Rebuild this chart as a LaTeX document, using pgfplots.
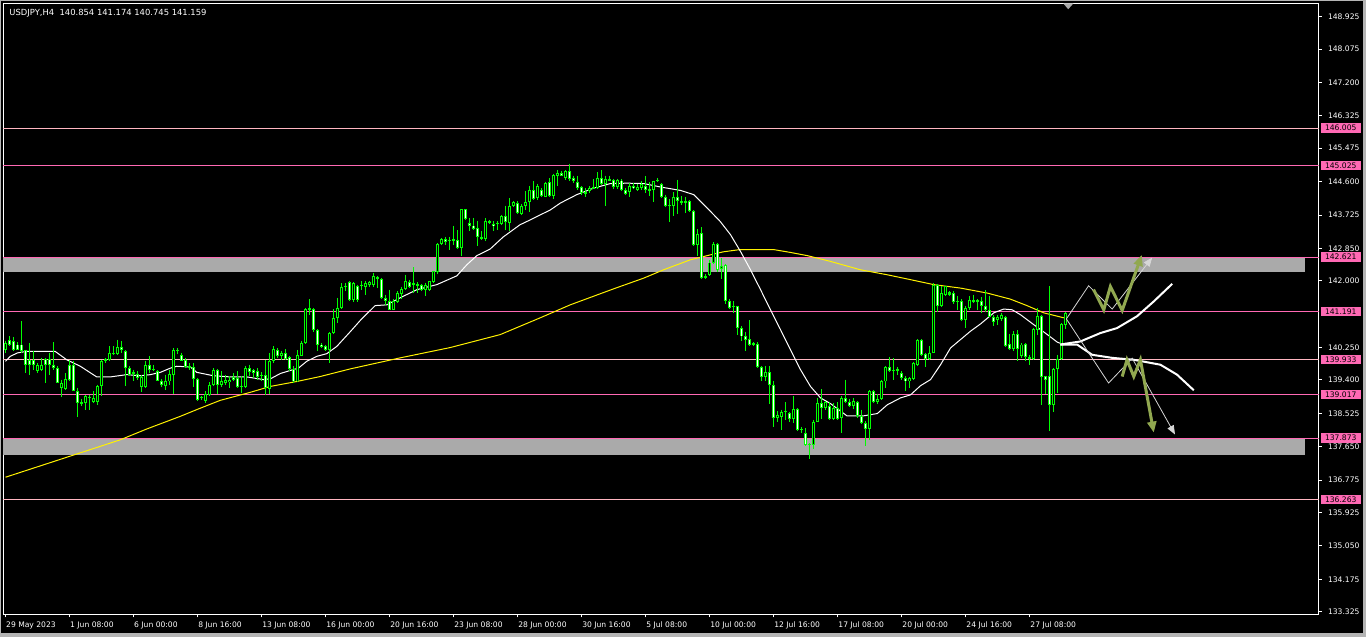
\documentclass[border=0pt]{standalone}
\usepackage{pgfplots}
\pgfplotsset{compat=1.18}
\usepackage{pgfplotstable}
\usepackage{fontspec}
\setmainfont{DejaVu Sans}
\usetikzlibrary{arrows.meta}
\definecolor{lime}{RGB}{0,255,0}
\definecolor{hpink}{RGB}{255,105,180}
\definecolor{lpink}{RGB}{255,182,193}
\definecolor{zgray}{RGB}{170,170,170}
\definecolor{olivearrow}{RGB}{145,168,80}
\definecolor{thinwhite}{RGB}{215,215,215}
\definecolor{bordergray}{RGB}{180,180,180}

\pgfplotstableread{
i o h l c
0 140.19 140.43 140.12 140.37
1 140.44 140.54 140.28 140.33
2 140.41 140.53 140.15 140.19
3 140.33 140.39 140.18 140.19
4 140.33 140.94 140.11 140.15
5 140.19 140.19 139.58 139.80
6 139.93 140.37 139.54 139.80
7 139.93 140.15 139.67 139.78
8 139.64 139.84 139.58 139.78
9 139.65 139.98 139.63 139.80
10 139.95 139.98 139.32 139.78
11 139.95 140.11 139.54 139.78
12 139.80 140.39 139.67 139.71
13 139.71 139.76 139.32 139.32
14 139.19 139.41 138.95 139.32
15 139.16 139.58 139.15 139.43
16 139.80 139.93 139.36 139.41
17 139.80 139.89 139.10 139.12
18 139.10 139.19 138.43 138.80
19 138.78 138.90 138.71 138.81
20 138.80 139.01 138.62 138.97
21 138.95 139.01 138.62 138.92
22 138.81 139.10 138.80 138.93
23 138.81 139.28 138.75 139.23
24 139.25 139.93 138.97 139.91
25 139.89 139.98 139.84 139.95
26 139.93 140.28 139.89 140.11
27 140.08 140.28 140.06 140.11
28 140.09 140.46 140.06 140.26
29 140.26 140.41 140.11 140.18
30 140.15 140.19 139.23 139.71
31 139.71 139.76 139.50 139.54
32 139.60 139.67 139.36 139.56
33 139.56 139.63 139.41 139.44
34 139.22 139.54 139.08 139.47
35 139.22 139.90 139.19 139.78
36 139.80 140.02 139.58 139.65
37 139.69 139.80 139.63 139.65
38 139.64 139.65 139.36 139.38
39 139.38 139.43 139.22 139.28
40 139.25 139.54 139.15 139.38
41 139.36 139.67 139.28 139.56
42 139.54 140.24 139.03 140.19
43 140.19 140.24 140.09 140.15
44 140.05 140.12 139.89 139.91
45 139.93 139.98 139.71 139.74
46 139.76 139.84 139.67 139.71
47 139.74 139.84 139.22 139.43
48 139.43 139.45 138.84 138.88
49 138.92 138.99 138.88 138.95
50 138.84 139.10 138.80 139.04
51 139.01 139.34 138.97 139.28
52 139.28 139.71 139.23 139.67
53 139.65 139.69 139.04 139.28
54 139.28 139.63 139.22 139.36
55 139.32 139.54 139.28 139.39
56 139.34 139.50 139.19 139.41
57 139.47 139.58 139.36 139.39
58 139.45 139.63 139.19 139.22
59 139.21 139.50 139.06 139.23
60 139.22 139.77 139.19 139.71
61 139.71 139.80 139.50 139.60
62 139.65 139.69 139.45 139.58
63 139.64 139.71 139.41 139.47
64 139.53 139.60 139.36 139.50
65 139.53 139.93 139.01 139.19
66 139.16 140.11 139.04 139.91
67 139.89 140.28 139.84 140.21
68 140.19 140.24 139.98 140.02
69 140.02 140.15 139.93 140.11
70 140.11 140.21 139.93 139.95
71 139.99 140.02 139.63 139.69
72 139.69 139.76 139.32 139.36
73 139.36 140.19 139.34 140.06
74 140.04 140.41 140.02 140.37
75 140.37 141.29 140.35 141.26
76 141.28 141.51 141.11 141.24
77 141.26 141.29 140.67 140.72
78 140.72 140.74 140.15 140.33
79 140.33 140.37 140.24 140.26
80 140.28 140.33 140.15 140.18
81 140.18 140.65 139.84 140.63
82 140.63 141.26 140.61 141.02
83 141.02 141.55 140.89 141.29
84 141.29 141.94 141.26 141.84
85 141.84 141.94 141.72 141.87
86 141.96 141.99 141.46 141.49
87 141.49 141.96 141.44 141.94
88 141.87 141.90 141.44 141.49
89 141.87 141.99 141.77 141.90
90 141.85 141.99 141.64 141.93
91 141.90 142.00 141.85 141.98
92 141.90 142.20 141.85 142.12
93 142.10 142.13 141.81 142.05
94 142.05 142.07 141.51 141.55
95 141.55 141.64 141.37 141.46
96 141.46 141.77 141.24 141.24
97 141.24 141.51 141.23 141.46
98 141.44 141.72 141.42 141.68
99 141.66 141.85 141.52 141.78
100 141.78 142.16 141.77 142.00
101 141.96 142.03 141.81 141.85
102 141.90 142.36 141.68 141.94
103 141.92 141.96 141.68 141.87
104 141.90 141.92 141.72 141.77
105 141.77 141.94 141.61 141.90
106 141.77 142.00 141.74 141.99
107 141.96 142.27 141.94 142.25
108 142.22 142.99 142.19 142.97
109 142.97 143.12 142.95 143.10
110 143.10 143.15 142.95 143.01
111 143.06 143.15 142.82 143.08
112 143.10 143.45 142.95 143.05
113 143.06 143.32 142.83 142.85
114 142.85 143.88 142.66 143.87
115 143.87 143.88 143.60 143.62
116 143.52 143.65 143.30 143.43
117 143.45 143.65 143.34 143.36
118 143.38 143.58 142.90 143.15
119 143.15 143.30 143.08 143.10
120 143.10 143.65 143.04 143.58
121 143.58 143.60 143.50 143.52
122 143.50 143.56 143.30 143.43
123 143.48 143.56 143.34 143.52
124 143.50 143.73 143.47 143.69
125 143.71 143.97 143.34 143.53
126 143.52 144.17 143.30 143.95
127 143.95 144.08 143.94 144.06
128 144.04 144.08 143.76 143.78
129 143.76 144.02 143.73 143.97
130 143.95 144.35 143.86 144.06
131 144.06 144.49 143.80 144.39
132 144.39 144.61 144.13 144.15
133 144.17 144.55 144.13 144.48
134 144.39 144.43 144.21 144.23
135 144.21 144.60 144.20 144.56
136 144.58 144.69 144.21 144.23
137 144.23 144.81 144.14 144.78
138 144.76 144.91 144.49 144.83
139 144.83 144.87 144.74 144.76
140 144.70 144.91 144.65 144.87
141 144.87 145.07 144.63 144.67
142 144.70 144.76 144.56 144.61
143 144.58 144.76 144.39 144.43
144 144.46 144.48 144.26 144.30
145 144.28 144.43 144.21 144.32
146 144.35 144.48 144.30 144.43
147 144.41 144.67 144.41 144.45
148 144.43 144.84 144.41 144.70
149 144.70 144.90 144.52 144.55
150 144.55 144.76 143.95 144.67
151 144.67 144.76 144.61 144.63
152 144.65 144.67 144.41 144.46
153 144.46 144.67 144.41 144.65
154 144.63 144.67 144.35 144.37
155 144.39 144.43 144.26 144.28
156 144.32 144.56 144.20 144.49
157 144.49 144.56 144.41 144.43
158 144.39 144.55 144.35 144.46
159 144.43 144.61 144.39 144.54
160 144.49 144.74 144.30 144.37
161 144.35 144.58 144.23 144.41
162 144.39 144.63 144.06 144.61
163 144.61 144.70 144.58 144.65
164 144.55 144.56 144.17 144.21
165 144.21 144.26 143.94 143.95
166 143.97 144.14 143.53 143.99
167 143.97 144.32 143.69 144.20
168 144.20 144.65 143.76 144.08
169 144.08 144.22 144.00 144.04
170 144.04 144.21 143.78 144.08
171 144.08 144.11 143.80 143.82
172 143.84 143.86 142.92 142.95
173 142.95 143.36 142.66 143.24
174 143.25 143.41 142.05 142.07
175 142.08 142.19 142.06 142.12
176 142.16 142.55 142.12 142.48
177 142.48 143.01 142.45 142.97
178 142.97 142.99 142.22 142.29
179 142.31 142.60 142.05 142.40
180 142.42 142.45 141.40 141.46
181 141.48 141.51 141.26 141.29
182 141.31 141.46 141.16 141.35
183 141.33 141.35 140.59 140.76
184 140.76 140.81 140.41 140.54
185 140.56 140.67 140.15 140.46
186 140.47 140.96 140.28 140.33
187 140.33 140.39 140.28 140.36
188 140.35 140.39 139.71 139.74
189 139.74 139.76 139.36 139.49
190 139.49 139.77 139.36 139.60
191 139.60 139.76 138.78 139.28
192 139.28 139.38 138.17 138.40
193 138.40 138.58 138.31 138.49
194 138.43 138.62 138.08 138.56
195 138.58 138.81 138.36 138.55
196 138.53 138.55 138.29 138.38
197 138.38 138.97 138.27 138.64
198 138.64 138.66 138.05 138.08
199 138.11 138.17 138.01 138.08
200 138.01 138.14 137.68 137.70
201 137.69 137.75 137.33 137.72
202 137.70 138.36 137.59 138.31
203 138.31 138.93 138.29 138.80
204 138.80 139.16 138.38 138.67
205 138.67 138.84 138.62 138.81
206 138.73 138.81 138.36 138.38
207 138.38 138.80 138.34 138.67
208 138.67 138.81 138.34 138.38
209 138.40 138.97 138.01 138.93
210 138.93 139.41 138.80 138.81
211 138.81 138.90 138.69 138.71
212 138.71 138.93 138.64 138.84
213 138.81 138.84 138.40 138.45
214 138.46 138.62 138.25 138.27
215 138.27 138.32 137.66 138.11
216 138.11 139.13 137.83 139.10
217 139.10 139.15 138.80 138.81
218 138.81 139.02 138.78 138.90
219 138.90 139.41 138.88 139.36
220 139.36 139.76 139.19 139.74
221 139.74 140.00 139.60 139.63
222 139.63 139.98 139.41 139.67
223 139.69 139.74 139.54 139.63
224 139.58 139.63 139.41 139.45
225 139.45 139.50 139.10 139.36
226 139.36 139.48 139.19 139.45
227 139.43 139.86 139.41 139.85
228 139.80 140.47 139.77 140.46
229 140.46 140.47 140.04 140.06
230 140.09 140.12 139.74 139.95
231 139.95 140.28 139.93 140.12
232 140.12 141.94 140.11 141.90
233 141.90 141.92 141.17 141.35
234 141.35 141.86 141.31 141.68
235 141.64 141.87 141.61 141.86
236 141.70 141.72 141.59 141.64
237 141.68 141.72 141.40 141.44
238 141.46 141.61 141.23 141.44
239 141.46 141.51 140.94 140.96
240 140.96 141.33 140.76 141.29
241 141.29 141.59 141.24 141.50
242 141.49 141.64 141.42 141.44
243 141.44 141.52 141.24 141.49
244 141.46 141.58 141.16 141.33
245 141.35 141.75 141.17 141.23
246 141.24 141.61 141.05 141.05
247 141.05 141.11 140.82 140.91
248 140.96 141.11 140.85 141.05
249 141.00 141.16 140.94 141.11
250 141.05 141.09 140.26 140.30
251 140.35 140.61 140.18 140.21
252 140.21 140.68 140.15 140.61
253 140.61 140.70 139.91 140.21
254 140.02 140.37 139.98 140.33
255 140.35 140.37 139.89 140.00
256 140.00 140.06 139.80 139.95
257 139.95 140.76 139.93 140.74
258 140.70 141.29 140.59 141.09
259 141.09 141.11 138.75 139.48
260 139.50 139.51 139.04 139.39
261 139.50 141.86 138.05 138.75
262 138.75 139.71 138.55 139.69
263 139.69 140.06 139.06 139.95
264 139.95 140.89 139.93 140.88
265 140.854 141.174 140.745 141.159
}\candles

\newcommand{\levelline}[2]{\addplot[#1, line width=1pt, forget plot] coordinates {(-0.5,#2) (328.25,#2)};}
\newcommand{\pinklabel}[1]{\node[fill=hpink, text=black, anchor=west, inner xsep=4.5pt, inner ysep=0pt, minimum height=9.5pt, font=\fontsize{7.6}{9}\selectfont, xshift=1.5pt] at (axis cs:328.25,#1) {#1};}

\begin{document}
\begin{tikzpicture}
\fill[black] (0,0) rectangle (1366pt,637pt);
\begin{axis}[
  at={(3.5pt,22.5pt)}, anchor=south west,
  scale only axis, width=1315pt, height=611pt,
  xmin=-0.5, xmax=328.25, ymin=133.251, ymax=149.271,
  clip=false,
  axis line style={white, line width=1pt},
  tick style={white, line width=1pt},
  major tick length=3pt,
  tick align=outside,
  xtick pos=left, ytick pos=right,
  xticklabel pos=left, yticklabel pos=right,
  xtick={0,16,32,48,64,80,96,112,128,144,160,176,192,208,224,240,256},
  xticklabels={29 May 2023,1 Jun 08:00,6 Jun 00:00,8 Jun 16:00,13 Jun 08:00,16 Jun 00:00,20 Jun 16:00,23 Jun 08:00,28 Jun 00:00,30 Jun 16:00,5 Jul 08:00,10 Jul 00:00,12 Jul 16:00,17 Jul 08:00,20 Jul 00:00,24 Jul 16:00,27 Jul 08:00},
  ytick={148.925,148.075,147.200,146.325,145.475,144.600,143.725,142.850,142.000,140.250,139.400,138.525,137.650,136.775,135.925,135.050,134.175,133.325},
  yticklabels={148.925,148.075,147.200,146.325,145.475,144.600,143.725,142.850,142.000,140.250,139.400,138.525,137.650,136.775,135.925,135.050,134.175,133.325},
  ticklabel style={font=\fontsize{7.6}{9}\selectfont, text=white},
  xticklabel style={anchor=north west, inner sep=0pt, xshift=0.5pt, yshift=-3.8pt},
  yticklabel style={anchor=west, inner sep=0pt, xshift=6pt},
  unbounded coords=discard,
]
% gray zones
\addplot[fill=zgray, draw=none, forget plot] coordinates {(-0.5,142.63) (324.9,142.63) (324.9,142.24) (-0.5,142.24)} -- cycle;
\addplot[fill=zgray, draw=none, forget plot] coordinates {(-0.5,137.86) (324.9,137.86) (324.9,137.43) (-0.5,137.43)} -- cycle;
% horizontal levels
\levelline{lpink}{146.005}
\levelline{hpink}{145.025}
\levelline{hpink}{142.621}
\levelline{hpink}{141.191}
\levelline{lpink}{139.933}
\levelline{hpink}{139.017}
\levelline{hpink}{137.873}
\levelline{lpink}{136.263}
% yellow MA
\addplot[yellow, line width=1pt, forget plot] coordinates {
(0,136.85) (28.65,137.83) (35.3,138.115) (43.65,138.445) (48.2,138.64) (53.65,138.865) (61.15,139.075) (66.15,139.23) (72.8,139.36) (78.65,139.49) (86.15,139.69) (98.65,139.98) (111.15,140.25) (123.65,140.59) (133.65,141.03) (141.15,141.37) (152,141.79) (159.5,142.07) (164.5,142.29) (171.15,142.55) (176.15,142.68) (179.4,142.76) (183.65,142.82) (191.9,142.82) (196.15,142.745) (200.4,142.66) (206.15,142.51) (213.65,142.29) (220.3,142.16) (225.3,142.05) (232,141.90) (238.65,141.81) (245.3,141.68) (251.15,141.52) (255.3,141.35) (259.5,141.16) (264.5,141.03)};
% white MA
\addplot[white, line width=1pt, forget plot] coordinates {
(0,139.89) (1.2,140.02) (3,140.11) (5.3,140.15) (12.4,140.15) (15.3,139.93) (18.7,139.76) (22.8,139.48) (26.2,139.48) (30.3,139.54) (33.7,139.51) (36.2,139.54) (38.7,139.60) (41.2,139.71) (42.8,139.76) (46.2,139.74) (47.8,139.60) (52,139.51) (56.2,139.48) (60.3,139.48) (64.5,139.41) (66.2,139.43) (68.7,139.57) (71.2,139.65) (73.2,139.71) (75.3,139.89) (77.8,140.02) (80.3,140.09) (82.8,140.28) (86.2,140.67) (89,141.0) (92.4,141.35) (95.3,141.37) (99.1,141.58) (102.9,141.77) (107.8,141.90) (112.8,142.13) (115.3,142.42) (117.8,142.66) (121.1,142.83) (124.4,143.15) (128.6,143.47) (131.2,143.60) (136.2,143.86) (138.7,144.04) (142.8,144.26) (147,144.43) (151.2,144.55) (155.4,144.56) (159.5,144.55) (163.7,144.46) (168.7,144.37) (172,144.26) (176.2,143.82) (178.6,143.56) (181.2,143.21) (183.7,142.77) (186.2,142.29) (188.7,141.77) (191.2,141.24) (193.7,140.72) (196.2,140.19) (198.7,139.67) (201.2,139.23) (203.7,138.93) (206.2,138.78) (210.3,138.46) (214.5,138.46) (217.9,138.52) (220.4,138.75) (223.7,138.93) (226.2,139.01) (228.7,139.25) (231.2,139.41) (233.7,139.80) (236.2,140.24) (238.7,140.46) (241.2,140.68) (243.7,140.87) (247,141.16) (249.5,141.26) (251.6,141.24) (253.7,141.11) (257,140.85) (260.4,140.59) (262.9,140.39) (264.5,140.33)};
% wicks
\addplot[draw=none, mark=none, forget plot,
  error bars/.cd, y dir=minus, y explicit, error mark=none,
  error bar style={draw=lime, line width=1pt}]
  table[x=i, y=h, y error minus expr={\thisrow{h}-\thisrow{l}}] {\candles};
% bodies (outline)
\addplot[draw=none, mark=none, forget plot,
  error bars/.cd, y dir=minus, y explicit, error mark=none,
  error bar style={draw=lime, line width=3pt}]
  table[x=i, y expr={max(\thisrow{o},\thisrow{c})},
        y error minus expr={max(abs(\thisrow{o}-\thisrow{c}),0.026)}] {\candles};
% bear bodies: white inside
\addplot[draw=none, mark=none, forget plot,
  error bars/.cd, y dir=minus, y explicit, error mark=none,
  error bar style={draw=white, line width=1pt}]
  table[x=i, y expr={(\thisrow{o}-\thisrow{c}>0.06) ? \thisrow{o}-0.026 : nan},
        y error minus expr={abs(\thisrow{o}-\thisrow{c})-0.052}] {\candles};
% bull bodies: black inside
\addplot[draw=none, mark=none, forget plot,
  error bars/.cd, y dir=minus, y explicit, error mark=none,
  error bar style={draw=black, line width=1pt}]
  table[x=i, y expr={(\thisrow{c}-\thisrow{o}>0.06) ? \thisrow{c}-0.026 : nan},
        y error minus expr={abs(\thisrow{o}-\thisrow{c})-0.052}] {\candles};
% projection: thick white curves
\addplot[white, line width=2pt, forget plot] coordinates {(263.65,140.33) (268.65,140.41) (273.65,140.63) (277.8,140.76) (282.8,141.07) (287.0,141.46) (291.6,141.92)};
\addplot[white, line width=2pt, forget plot] coordinates {(263.65,140.33) (267.8,140.33) (271.6,140.06) (276.6,139.98) (281.95,139.93) (288.65,139.80) (292.8,139.54) (297.0,139.13)};
% thin white zigzags with arrows
\addplot[thinwhite, line width=0.8pt, forget plot, -{Triangle[length=9pt,width=7pt]}] coordinates {(265.15,141.00) (270.7,141.87) (276.6,141.26) (286.6,142.61)};
\addplot[thinwhite, line width=0.8pt, forget plot, -{Triangle[length=9pt,width=7pt]}] coordinates {(265.15,141.00) (275.7,139.32) (281.6,139.97) (292.3,137.97)};
% olive zigzags with arrows
\addplot[olivearrow, line width=3pt, forget plot, -{Triangle[length=11pt,width=9pt]}] coordinates {(271.95,141.77) (274.5,141.24) (276.15,141.85) (279.1,141.225) (284.0,142.68)};
\addplot[olivearrow, line width=3pt, forget plot, -{Triangle[length=11pt,width=9pt]}] coordinates {(279.1,139.49) (280.3,139.93) (282.0,139.49) (283.65,139.93) (287.0,138.02)};
% shift marker
\addplot[fill=zgray, draw=none, forget plot] coordinates {(264.4,149.271) (266.9,149.271) (265.6,149.12)} -- cycle;
% header
\node[anchor=west, inner sep=0pt, text=white, font=\fontsize{8.4}{10}\selectfont] at (rel axis cs:0,1) [xshift=5.8pt, yshift=-9.8pt] {USDJPY,H4\ \ 140.854 141.174 140.745 141.159};
% level labels
\pinklabel{146.005}
\pinklabel{145.025}
\pinklabel{142.621}
\pinklabel{141.191}
\pinklabel{139.933}
\pinklabel{139.017}
\pinklabel{137.873}
\pinklabel{136.263}
\end{axis}
% window border
\fill[bordergray] (0,0) rectangle (1366pt,3.5pt);
\fill[bordergray] (1363pt,0) rectangle (1366pt,637pt);
\fill[bordergray] (0,636pt) rectangle (1366pt,637pt);
\fill[bordergray] (0,0) rectangle (1pt,637pt);
\pgfresetboundingbox
\useasboundingbox (0,0) rectangle (1366pt,637pt);
\end{tikzpicture}
\end{document}
